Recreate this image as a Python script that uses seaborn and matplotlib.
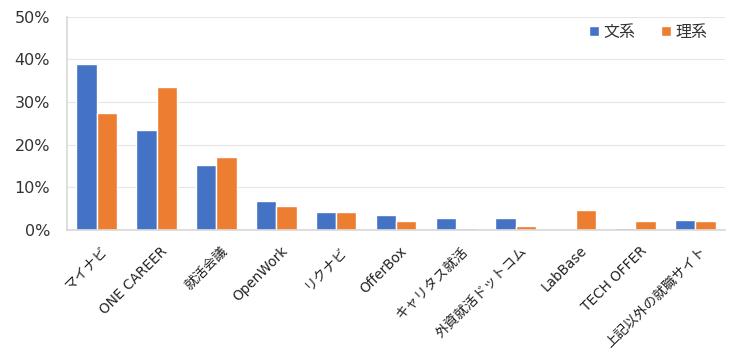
import matplotlib
matplotlib.use("Agg")
import matplotlib.pyplot as plt
import matplotlib.transforms as mtransforms
import seaborn as sns
import pandas as pd
from matplotlib.ticker import FuncFormatter, FixedLocator

categories = ["マイナビ", "ONE CAREER", "就活会議", "OpenWork", "リクナビ", "OfferBox",
              "キャリタス就活", "外資就活ドットコム", "LabBase", "TECH OFFER", "上記以外の就職サイト"]
bunkei = [38.9, 23.4, 15.3, 6.7, 4.2, 3.4, 2.7, 2.7, 0.0, 0.5, 2.35]
rikei = [27.5, 33.5, 17.2, 5.6, 4.2, 2.0, 0.5, 0.9, 4.7, 2.0, 2.0]
series = ["文系", "理系"]
colors = ["#4472C4", "#ED7D31"]

df = pd.DataFrame({
    "site": categories * 2,
    "value": bunkei + rikei,
    "group": [series[0]] * len(categories) + [series[1]] * len(categories),
})

sns.set_theme(style="white")
plt.rcParams["font.family"] = ["DejaVu Sans", "Noto Sans CJK JP"]

fig = plt.figure(figsize=(7.5, 3.51), dpi=100)
ax = fig.add_axes([0.089, 0.345, 0.878, 0.607])
sns.barplot(data=df, x="site", y="value", hue="group", palette=colors,
            width=0.68, ax=ax, saturation=1, legend=True)

ax.set_ylim(0, 50)
ax.set_xlim(-0.5, len(categories) - 0.5)
ax.yaxis.set_major_locator(FixedLocator([0, 10, 20, 30, 40, 50]))
ax.yaxis.set_major_formatter(FuncFormatter(lambda v, p: f"{int(v)}%"))
ax.grid(axis="y", color="#E6E6E6", linewidth=0.8)
ax.set_axisbelow(True)
for s in ["top", "right"]:
    ax.spines[s].set_visible(False)
ax.spines["left"].set_color("#D9D9D9")
ax.spines["bottom"].set_color("#D9D9D9")
ax.set_xlabel("")
ax.set_ylabel("")
ax.tick_params(axis="y", labelsize=11.5, colors="#333333", length=0, pad=12)
ax.set_xticks(range(len(categories)))
ax.set_xticklabels(categories, rotation=45, ha="right", rotation_mode="anchor",
                   fontsize=9.8, color="#222222")
ax.tick_params(axis="x", length=0, pad=10)
offset = mtransforms.ScaledTranslation(4 / 100, 0, fig.dpi_scale_trans)
for lbl in ax.get_xticklabels():
    lbl.set_transform(lbl.get_transform() + offset)
# minor ticks at boundaries
ax.set_xticks([i + 0.5 for i in range(len(categories))], minor=True)
ax.tick_params(axis="x", which="minor", length=4, color="#D9D9D9", direction="in")

leg = ax.legend(loc="upper right", bbox_to_anchor=(0.995, 1.03), ncol=2, frameon=False,
                fontsize=11.5, handlelength=0.6, handleheight=0.6, columnspacing=1.6,
                handletextpad=0.3)
for t in leg.get_texts():
    t.set_color("#333333")

fig.savefig("out.png", dpi=100, facecolor="white")
